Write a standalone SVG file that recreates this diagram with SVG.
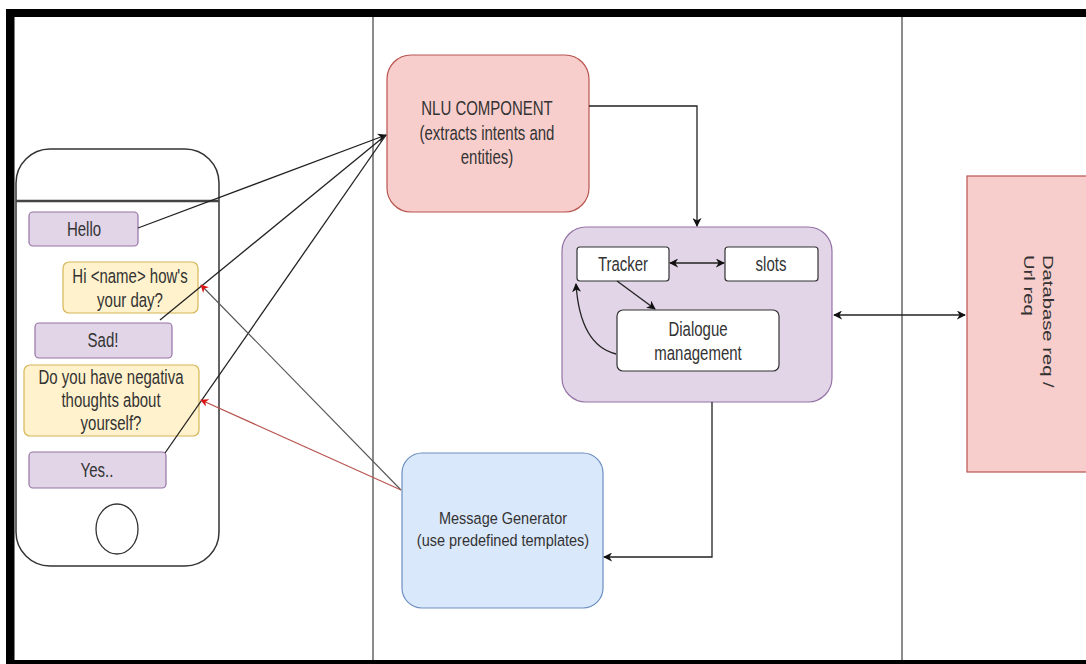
<svg xmlns="http://www.w3.org/2000/svg" width="1086" height="664" viewBox="0 0 1086 664">
  <style>
    .t { font-family: "Liberation Sans", Arial, sans-serif; font-size: 15px; fill: #333; text-anchor: middle; }
    .purple { fill: #e1d5e7; stroke: #9673a6; stroke-width: 1.2; }
    .yellow { fill: #fff2cc; stroke: #d6b656; stroke-width: 1.2; }
    .red { fill: #f8cecc; stroke: #b85450; stroke-width: 1.2; }
    .blue { fill: #dae8fc; stroke: #6c8ebf; stroke-width: 1.2; }
    .white { fill: #ffffff; stroke: #333; stroke-width: 1.2; }
    .line { fill: none; stroke: #222; stroke-width: 1.3; }
    .redline { fill: none; stroke: #b85450; stroke-width: 1.2; }
    .greyline { fill: none; stroke: #555; stroke-width: 1.1; }
  </style>
  <defs>
    <marker id="arrow" viewBox="0 0 10 10" refX="9" refY="5" markerWidth="9" markerHeight="9" orient="auto-start-reverse" markerUnits="userSpaceOnUse">
      <path d="M0,0 L10,5 L0,10 L3,5 z" fill="#111"/>
    </marker>
    <marker id="arrowRed" viewBox="0 0 10 10" refX="9" refY="5" markerWidth="8" markerHeight="8" orient="auto" markerUnits="userSpaceOnUse">
      <path d="M0,0 L10,5 L0,10 L3,5 z" fill="#d11"/>
    </marker>
  </defs>

  <rect width="1086" height="664" fill="#ffffff"/>

  <!-- outer frame and swimlane separators -->
  <g id="frame">
    <rect x="6" y="9" width="1080" height="8" fill="#000"/>
    <rect x="6" y="9" width="8.5" height="655" fill="#000"/>
    <rect x="6" y="660" width="1080" height="4" fill="#000"/>
    <line x1="373" y1="17" x2="373" y2="660" stroke="#666" stroke-width="1.5"/>
    <line x1="902" y1="17" x2="902" y2="660" stroke="#666" stroke-width="1.5"/>
  </g>

  <!-- phone -->
  <g id="phone">
    <rect x="16" y="149" width="203" height="417" rx="34" fill="#fff" stroke="#333" stroke-width="1.5"/>
    <line x1="16" y1="201" x2="219" y2="201" stroke="#444" stroke-width="2.5"/>
    <ellipse cx="117" cy="529" rx="21" ry="25" fill="#fff" stroke="#333" stroke-width="1.3"/>
  </g>

  <g id="msg-hello">
    <rect class="purple" x="29" y="212" width="109" height="34" rx="4"/>
    <g transform="translate(84,229) scale(1,1.35)"><text class="t" y="5">Hello</text></g>
  </g>
  <g id="msg-greeting">
    <rect class="yellow" x="63" y="262" width="135" height="51" rx="6"/>
    <g transform="translate(130,288) scale(1,1.35)">
      <text class="t" y="-4">Hi &lt;name&gt; how's</text>
      <text class="t" y="14">your day?</text>
    </g>
  </g>
  <g id="msg-sad">
    <rect class="purple" x="35" y="323" width="137" height="35" rx="4"/>
    <g transform="translate(103,340) scale(1,1.35)"><text class="t" y="5">Sad!</text></g>
  </g>
  <g id="msg-question">
    <rect class="yellow" x="24" y="365" width="175" height="71" rx="6"/>
    <g transform="translate(111,400) scale(1,1.35)">
      <text class="t" y="-12">Do you have negativa</text>
      <text class="t" y="5">thoughts about</text>
      <text class="t" y="22">yourself?</text>
    </g>
  </g>
  <g id="msg-yes">
    <rect class="purple" x="29" y="452" width="137" height="36" rx="4"/>
    <g transform="translate(97,470) scale(1,1.35)"><text class="t" y="5">Yes..</text></g>
  </g>

  <!-- NLU -->
  <g id="nlu">
    <rect class="red" x="387" y="55" width="202" height="157" rx="24"/>
    <g transform="translate(487,133) scale(1,1.35)">
      <text class="t" y="-13">NLU COMPONENT</text>
      <text class="t" y="5">(extracts intents and</text>
      <text class="t" y="23">entities)</text>
    </g>
  </g>

  <!-- dialogue container -->
  <g id="dialogue-core">
    <rect class="purple" x="562" y="227" width="270" height="175" rx="24"/>
  </g>
  <g id="tracker">
    <rect class="white" x="577" y="247" width="92" height="34" rx="3"/>
    <g transform="translate(623,264) scale(1,1.35)"><text class="t" y="5">Tracker</text></g>
  </g>
  <g id="slots">
    <rect class="white" x="725" y="247" width="93" height="34" rx="3"/>
    <g transform="translate(771,264) scale(1,1.35)"><text class="t" y="5">slots</text></g>
  </g>
  <g id="dialogue-management">
    <rect class="white" x="617" y="310" width="162" height="61" rx="6"/>
    <g transform="translate(698,341) scale(1,1.35)">
      <text class="t" y="-4">Dialogue</text>
      <text class="t" y="14">management</text>
    </g>
  </g>

  <!-- message generator -->
  <g id="message-generator">
    <rect class="blue" x="402" y="453" width="201" height="155" rx="20"/>
    <g transform="translate(503,529) scale(1,1.2)">
      <text class="t" style="font-size:14.5px" y="-4">Message Generator</text>
      <text class="t" style="font-size:14.5px" y="14">(use predefined templates)</text>
    </g>
  </g>

  <!-- database -->
  <g id="database">
    <rect class="red" x="967" y="176" width="125" height="296"/>
    <g transform="translate(1037,255) scale(1,1.35) rotate(90)">
      <text class="t" style="text-anchor:start" y="-6">Database req /</text>
    </g>
    <g transform="translate(1018,255) scale(1,1.35) rotate(90)">
      <text class="t" style="text-anchor:start" y="-6">Url req</text>
    </g>
  </g>

  <!-- connectors -->
  <g id="connectors">
    <line class="line" x1="138" y1="228" x2="386" y2="135" marker-end="url(#arrow)"/>
    <line class="line" x1="160" y1="320" x2="386" y2="135"/>
    <line class="line" x1="165" y1="453" x2="386" y2="135"/>
    <line class="greyline" x1="401" y1="490" x2="201" y2="285" marker-end="url(#arrowRed)"/>
    <line class="redline" x1="401" y1="490" x2="201" y2="400" marker-end="url(#arrowRed)"/>
    <polyline class="line" points="589,106 697,106 697,226" marker-end="url(#arrow)"/>
    <line class="line" x1="670" y1="263" x2="724" y2="263" marker-start="url(#arrow)" marker-end="url(#arrow)"/>
    <line class="line" x1="617" y1="281" x2="655" y2="309" marker-end="url(#arrow)"/>
    <path class="line" d="M616,354 Q580,345 576,284" marker-end="url(#arrow)"/>
    <line class="line" x1="834" y1="315" x2="965" y2="315" stroke-width="1" marker-start="url(#arrow)" marker-end="url(#arrow)"/>
    <polyline class="line" points="712,402 712,557 604,557" marker-end="url(#arrow)"/>
  </g>
</svg>
